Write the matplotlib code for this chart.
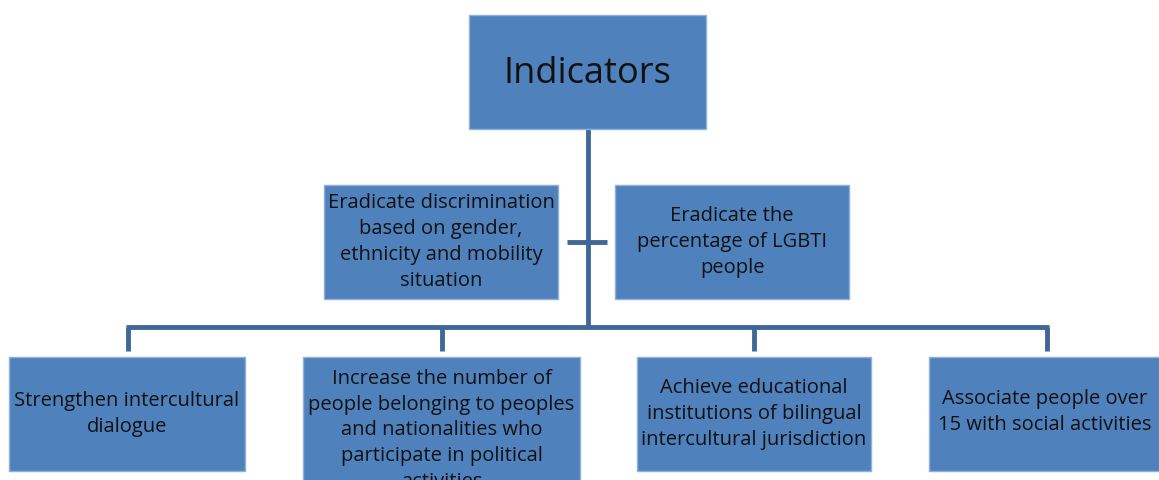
import matplotlib.pyplot as plt
from matplotlib.patches import Rectangle

# box texts
top_label = "Indicators"
mid_labels = [
    "Eradicate discrimination\nbased on gender,\nethnicity and mobility\nsituation",
    "Eradicate the\npercentage of LGBTI\npeople",
]
bottom_labels = [
    "Strengthen intercultural\ndialogue",
    "Increase the number of\npeople belonging to peoples\nand nationalities who\nparticipate in political\nactivities",
    "Achieve educational\ninstitutions of bilingual\nintercultural jurisdiction",
    "Associate people over\n15 with social activities",
]

# layout in pixels (x0, y0, x1, y1), y down
top_box = (469, 15, 706, 129)
mid_boxes = [(324, 185, 558, 299), (615, 185, 849, 299)]
bottom_boxes = [(9, 357, 245, 471), (303, 357, 580, 497),
                (637, 357, 871, 471), (929, 357, 1175, 471)]

FILL = '#4F81BD'
EDGE = '#8EB0DA'
LINE = '#3F6898'
FONT = ['Open Sans', 'DejaVu Sans']

fig = plt.figure(figsize=(11.59, 4.8), dpi=100)
ax = fig.add_axes([0, 0, 1, 1])
ax.set_xlim(0, 1159)
ax.set_ylim(480, 0)
ax.axis('off')


def draw_box(box, label, size, va='center', ty=None, tx=None):
    x0, y0, x1, y1 = box
    ax.add_patch(Rectangle((x0, y0), x1 - x0, y1 - y0, facecolor=FILL,
                           edgecolor=EDGE, linewidth=1, zorder=2))
    if ty is None:
        ty = (y0 + y1) / 2
    if tx is None:
        tx = (x0 + x1) / 2
    ax.text(tx, ty, label, ha='center', va=va, fontsize=size,
            family=FONT, color='#111111', linespacing=1.38, zorder=3)


# connectors
cx = (top_box[0] + top_box[2]) / 2 + 0.5
ax.plot([cx, cx], [129, 327], color=LINE, lw=3.5, solid_capstyle='butt', zorder=1)
ax.plot([567, 607], [242, 242], color=LINE, lw=3.5, solid_capstyle='butt', zorder=1)
drops = [128, 442, 754, 1047]
ax.plot([drops[0] - 2, drops[-1] + 2], [327, 327], color=LINE, lw=3.5,
        solid_capstyle='butt', zorder=1)
for dx in drops:
    ax.plot([dx, dx], [327, 351], color=LINE, lw=3.5, solid_capstyle='butt', zorder=1)

draw_box(top_box, top_label, 26, ty=74)
for b, lab in zip(mid_boxes, mid_labels):
    draw_box(b, lab, 14.5)
for i, (b, lab) in enumerate(zip(bottom_boxes, bottom_labels)):
    if i == 1:
        # overflowing text, anchored at the top like the original
        draw_box(b, lab, 14.5, va='top', ty=369)
    elif i == 3:
        draw_box(b, lab, 14.5, ty=412, tx=1045)
    else:
        draw_box(b, lab, 14.5)

fig.savefig('out.png', dpi=100)
